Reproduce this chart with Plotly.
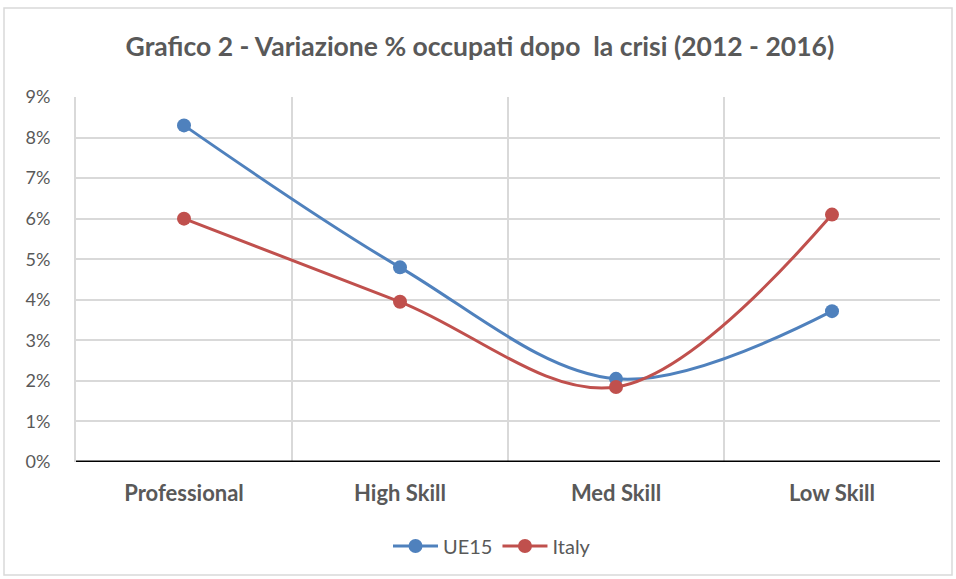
import plotly.graph_objects as go

categories = ["Professional", "High Skill", "Med Skill", "Low Skill"]
ue15 = [8.3, 4.8, 2.05, 3.72]
italy = [6.0, 3.95, 1.85, 6.1]
y_ticks = [0, 1, 2, 3, 4, 5, 6, 7, 8, 9]

xpos = list(range(len(categories)))

fig = go.Figure()
fig.add_trace(go.Scatter(
    x=xpos, y=ue15, name="UE15", mode="lines+markers",
    line=dict(color="#4F81BD", width=3, shape="spline", smoothing=1),
    marker=dict(size=14, color="#4F81BD"),
))
fig.add_trace(go.Scatter(
    x=xpos, y=italy, name="Italy", mode="lines+markers",
    line=dict(color="#C0504D", width=3, shape="spline", smoothing=1),
    marker=dict(size=14, color="#C0504D"),
))

font_family = "Lato, 'Open Sans', sans-serif"

fig.update_layout(
    width=956, height=579,
    margin=dict(l=76, r=16, t=97, b=117),
    paper_bgcolor="white", plot_bgcolor="white",
    font=dict(family=font_family, color="#595959", size=18),
    title=dict(
        text="<b>Grafico 2 - Variazione % occupati dopo  la crisi (2012 - 2016)</b>",
        x=0.502, xanchor="center", y=1 - 47 / 579, yanchor="middle", yref="container",
        font=dict(size=26.5, color="#595959", family=font_family),
    ),
    legend=dict(
        orientation="h", x=(492 - 76) / 864, xanchor="center", y=(462 - 546) / 365, yanchor="middle",
        font=dict(size=20, color="#595959"), itemwidth=45,
    ),
    showlegend=True,
    xaxis=dict(
        range=[-0.5, 3.5], tickvals=xpos, ticktext=["<b>%s</b>" % c for c in categories],
        showgrid=False, zeroline=False, showline=False, ticks="",
        ticklabelstandoff=16,
        tickfont=dict(size=22, color="#595959"),
        minor=dict(tickvals=[-0.5, 0.5, 1.5, 2.5, 3.5], showgrid=True, gridcolor="#D9D9D9", gridwidth=2, ticks=""),
    ),
    yaxis=dict(
        range=[0, 9], tickvals=y_ticks, ticktext=["%d%%" % v for v in y_ticks],
        showgrid=True, gridcolor="#D9D9D9", gridwidth=2, zeroline=False,
        showline=True, linecolor="#D9D9D9", linewidth=2, ticks="", ticklabelstandoff=20,
        tickfont=dict(size=18, color="#595959"),
    ),
    shapes=[
        dict(type="line", xref="paper", yref="y", x0=0, x1=1, y0=0, y1=0,
             line=dict(color="black", width=3)),
        dict(type="rect", xref="paper", yref="paper",
             x0=(4 - 76) / 864, x1=(952 - 76) / 864,
             y0=(462 - 575) / 365, y1=(462 - 8) / 365,
             line=dict(color="#D9D9D9", width=1.5), fillcolor="rgba(0,0,0,0)", layer="below"),
    ],
)

fig.write_html("out.html", config={"displayModeBar": False},
               post_script="document.body.style.margin='0';document.body.style.overflow='hidden';")
